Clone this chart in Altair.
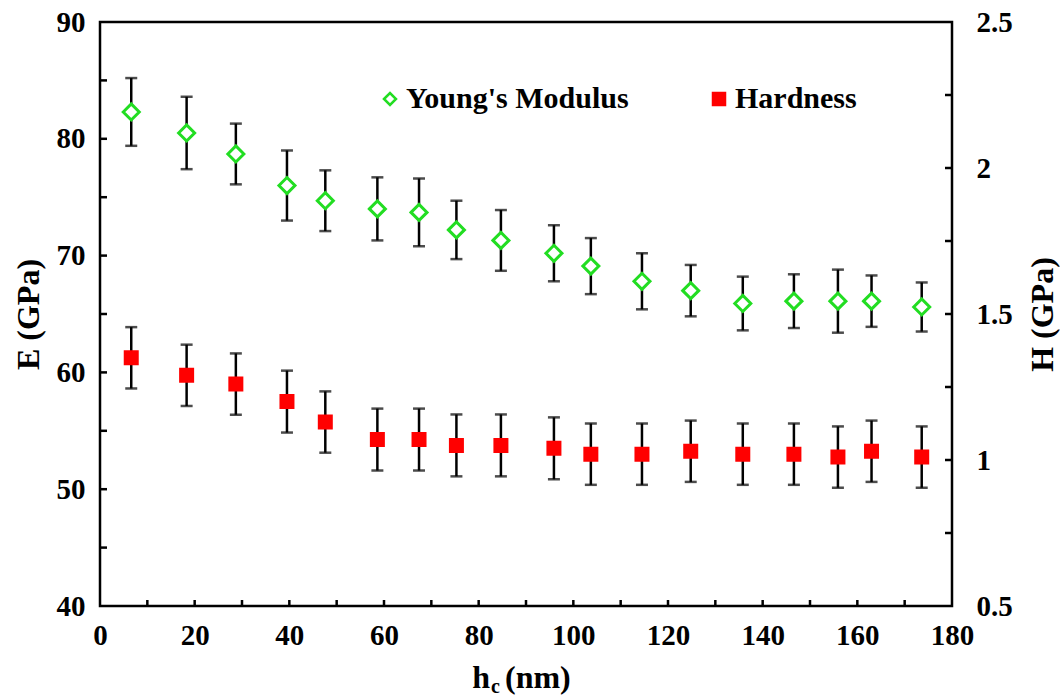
import altair as alt
import pandas as pd

# Contact depth h_c (nm) of each indentation
depth = [6.6, 18.3, 28.7, 39.5, 47.6, 58.6, 67.4, 75.3, 84.7, 95.9,
         103.7, 114.5, 124.8, 135.8, 146.6, 155.9, 163.0, 173.6]
# Young's modulus E (GPa) and its standard deviation
modulus = [82.3, 80.5, 78.7, 76.0, 74.7, 74.0, 73.7, 72.2, 71.3, 70.2,
           69.1, 67.8, 67.0, 65.9, 66.1, 66.1, 66.1, 65.6]
modulus_err = [2.9, 3.1, 2.6, 3.0, 2.6, 2.7, 2.9, 2.5, 2.6, 2.4,
               2.4, 2.4, 2.2, 2.3, 2.3, 2.7, 2.2, 2.1]
# Hardness H (GPa) and its standard deviation
hardness = [1.35, 1.29, 1.26, 1.20, 1.13, 1.07, 1.07, 1.05, 1.05, 1.04,
            1.02, 1.02, 1.03, 1.02, 1.02, 1.01, 1.03, 1.01]
hardness_err = [0.105, 0.105, 0.105, 0.106, 0.105, 0.106, 0.106, 0.106, 0.106, 0.106,
                0.105, 0.105, 0.105, 0.105, 0.105, 0.105, 0.105, 0.105]

# Axis labels and inward tick marks
x_labels = [0, 20, 40, 60, 80, 100, 120, 140, 160, 180]
e_labels = [40, 50, 60, 70, 80, 90]
h_labels = [0.5, 1.0, 1.5, 2.0, 2.5]
x_minor = [10, 20, 30, 40, 50, 60, 70, 80, 90, 100, 110, 120, 130, 140, 150, 160, 170]
e_minor = [45, 50, 55, 60, 65, 70, 75, 80, 85]
h_minor = [0.75, 1.0, 1.25, 1.5, 1.75, 2.0, 2.25]

names = ["Young's Modulus", "Hardness"]

FONT = "Times New Roman, Liberation Serif, DejaVu Serif, serif"
GREEN = "#22dd22"
RED = "#ff0000"
LINE = 2.5
W, H = 852, 584

df_e = pd.DataFrame({"hc": depth, "val": modulus, "err": modulus_err, "series": names[0]})
df_h = pd.DataFrame({"hc": depth, "val": hardness, "err": hardness_err, "series": names[1]})

x_scale = alt.Scale(domain=[0, 180], nice=False, zero=False)
e_scale = alt.Scale(domain=[40, 90], nice=False, zero=False)
h_scale = alt.Scale(domain=[0.5, 2.5], nice=False, zero=False)

label_style = dict(labelFont=FONT, labelFontWeight="bold", labelFontSize=29,
                   labelColor="black", ticks=False, domain=False, grid=False,
                   labelFlush=False, labelOverlap=False)
title_style = dict(titleFont=FONT, titleFontWeight="bold", titleFontSize=32,
                   titleColor="black", titleAngle=-90, titleAlign="center",
                   titleBaseline="alphabetic")

x_axis = alt.Axis(values=x_labels, title=None, labelPadding=15, **label_style)
e_axis = alt.Axis(values=e_labels, orient="left", title="E (GPa)", labelPadding=15,
                  titleX=-62, titleY=292, **label_style, **title_style)
h_axis = alt.Axis(values=h_labels, orient="right", format="~g", title="H (GPa)",
                  labelPadding=24, titleX=100, titleY=292, **label_style, **title_style)

legend = alt.Legend(title=None, orient="none", legendX=275, legendY=62,
                    direction="horizontal", columnPadding=75, labelOffset=1,
                    labelLimit=500, labelFont=FONT, labelFontSize=30,
                    labelFontWeight="bold", labelColor="black",
                    symbolSize=144, symbolStrokeWidth=2.5)

shape_enc = alt.Shape("series:N", scale=alt.Scale(domain=names, range=["diamond", "square"]), legend=legend)
fill_enc = alt.Fill("series:N", scale=alt.Scale(domain=names, range=["white", RED]), legend=legend)
stroke_enc = alt.Stroke("series:N", scale=alt.Scale(domain=names, range=[GREEN, RED]), legend=legend)


def series_layers(df, y_scale, y_axis, marker_size):
    base = alt.Chart(df).transform_calculate(
        lo="datum.val - datum.err", hi="datum.val + datum.err"
    ).encode(x=alt.X("hc:Q", scale=x_scale, axis=x_axis))
    bar = base.mark_rule(color="black", strokeWidth=LINE).encode(
        y=alt.Y("lo:Q", scale=y_scale, axis=y_axis), y2="hi:Q")
    cap_lo = base.mark_tick(orient="horizontal", size=12, thickness=LINE, color="black").encode(
        y=alt.Y("lo:Q", scale=y_scale, axis=y_axis))
    cap_hi = base.mark_tick(orient="horizontal", size=12, thickness=LINE, color="black").encode(
        y=alt.Y("hi:Q", scale=y_scale, axis=y_axis))
    points = base.mark_point(size=marker_size, strokeWidth=3, opacity=1).encode(
        y=alt.Y("val:Q", scale=y_scale, axis=y_axis),
        shape=shape_enc, fill=fill_enc, stroke=stroke_enc)
    return [bar, cap_lo, cap_hi, points]


# inward ticks on the frame
x_ticks = alt.Chart(pd.DataFrame({"v": x_minor})).mark_rule(color="black", strokeWidth=LINE).encode(
    x=alt.X("v:Q", scale=x_scale, axis=x_axis), y=alt.value(H), y2=alt.value(H - 6))
e_ticks = alt.Chart(pd.DataFrame({"v": e_minor})).mark_rule(color="black", strokeWidth=LINE).encode(
    y=alt.Y("v:Q", scale=e_scale, axis=e_axis), x=alt.value(0), x2=alt.value(7))
h_ticks = alt.Chart(pd.DataFrame({"v": h_minor})).mark_rule(color="black", strokeWidth=LINE).encode(
    y=alt.Y("v:Q", scale=h_scale, axis=h_axis), x=alt.value(W), x2=alt.value(W - 7))

e_group = alt.layer(*series_layers(df_e, e_scale, e_axis, 256), e_ticks, x_ticks)
h_group = alt.layer(*series_layers(df_h, h_scale, h_axis, 144), h_ticks)

# x-axis title with subscript: h_c (nm)
title_font = dict(font=FONT, fontWeight="bold", color="black", baseline="alphabetic")
t_h = alt.Chart(pd.DataFrame({"t": ["h"]})).mark_text(fontSize=32, align="right", **title_font).encode(
    text="t:N", x=alt.value(390), y=alt.value(666))
t_c = alt.Chart(pd.DataFrame({"t": ["c"]})).mark_text(fontSize=20, align="left", **title_font).encode(
    text="t:N", x=alt.value(391), y=alt.value(671))
t_nm = alt.Chart(pd.DataFrame({"t": ["(nm)"]})).mark_text(fontSize=32, align="left", **title_font).encode(
    text="t:N", x=alt.value(405), y=alt.value(666))

chart = alt.layer(e_group, h_group, t_h, t_c, t_nm).resolve_scale(
    y="independent"
).properties(
    width=W, height=H,
    padding={"left": 100, "top": 22, "right": 108, "bottom": 91},
    autosize=alt.AutoSizeParams(type="none"),
    background="white",
).configure_view(stroke="black", strokeWidth=LINE)

chart.save("out.html", embed_options={"renderer": "svg", "actions": False})
